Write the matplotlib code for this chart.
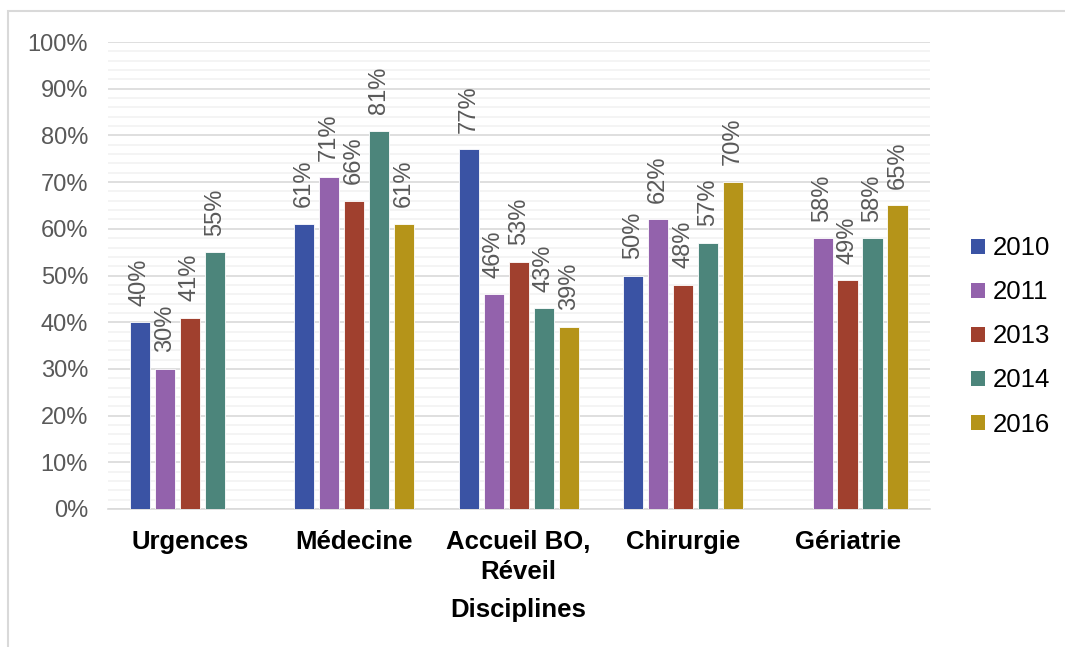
import numpy as np
import matplotlib
matplotlib.use('Agg')
import matplotlib.pyplot as plt
from matplotlib.patches import Patch, Rectangle
from matplotlib.ticker import MultipleLocator, PercentFormatter

plt.rcParams['font.family'] = ['Liberation Sans', 'DejaVu Sans']

categories = ['Urgences', 'Médecine', 'Accueil BO,\nRéveil', 'Chirurgie', 'Gériatrie']
years = ['2010', '2011', '2013', '2014', '2016']
v2010 = [40, 61, 77, 50, None]
v2011 = [30, 71, 46, 62, 58]
v2013 = [41, 66, 53, 48, 49]
v2014 = [55, 81, 43, 57, 58]
v2016 = [None, 61, 39, 70, 65]
series = [v2010, v2011, v2013, v2014, v2016]
colors = ['#3A53A4', '#9362AC', '#A0402E', '#4C857B', '#B59419']

fig = plt.figure(figsize=(10.65, 6.47), dpi=100)
ax = fig.add_axes([0.101, 0.2133, 0.772, 0.7217])

# cadre gris autour du graphique
fig.patches.append(Rectangle((8 / 1065, -0.1), 1.2, 1 - 11 / 647 + 0.1,
                             transform=fig.transFigure, fill=False,
                             edgecolor='#D9D9D9', linewidth=1.5))

x = np.arange(len(categories))
step = 0.152
width = 0.122
for i, (vals, c) in enumerate(zip(series, colors)):
    for j, v in enumerate(vals):
        if v is None:
            continue
        xp = x[j] + (i - 2) * step
        ax.bar(xp, v, width, color=c, edgecolor='white', linewidth=0.6, zorder=3)
        ax.annotate(f'{v}%', (xp, v), xytext=(0, 12), textcoords='offset points',
                    rotation=90, ha='center', va='bottom', fontsize=17,
                    color='#595959')

ax.set_xlim(-0.5, 4.5)
ax.set_ylim(0, 100)
ax.yaxis.set_major_locator(MultipleLocator(10))
ax.yaxis.set_minor_locator(MultipleLocator(2))
ax.yaxis.set_major_formatter(PercentFormatter(decimals=0))
ax.grid(axis='y', which='major', color='#D9D9D9', linewidth=1.2, zorder=0)
ax.grid(axis='y', which='minor', color='#F2F2F2', linewidth=1.2, zorder=0)
ax.set_axisbelow(True)
for s in ['top', 'right', 'left']:
    ax.spines[s].set_visible(False)
ax.spines['bottom'].set_color('#D9D9D9')
ax.spines['bottom'].set_linewidth(1.2)
ax.tick_params(axis='y', which='both', length=0, pad=14, labelsize=17, labelcolor='#595959')
ax.tick_params(axis='x', length=0, pad=15)
ax.set_xticks(x)
ax.set_xticklabels(categories, fontsize=18.5, fontweight='bold', linespacing=1.35)
ax.set_xlabel('Disciplines', fontsize=18.5, fontweight='bold', labelpad=10)

handles = [Patch(facecolor=c, label=y) for y, c in zip(years, colors)]
fig.legend(handles=handles, loc='center left', bbox_to_anchor=(0.9, 0.48),
           frameon=False, fontsize=18.5, handlelength=0.55, handleheight=0.55,
           handletextpad=0.3, labelspacing=0.78, borderpad=0)

fig.savefig('out.png', dpi=100)
